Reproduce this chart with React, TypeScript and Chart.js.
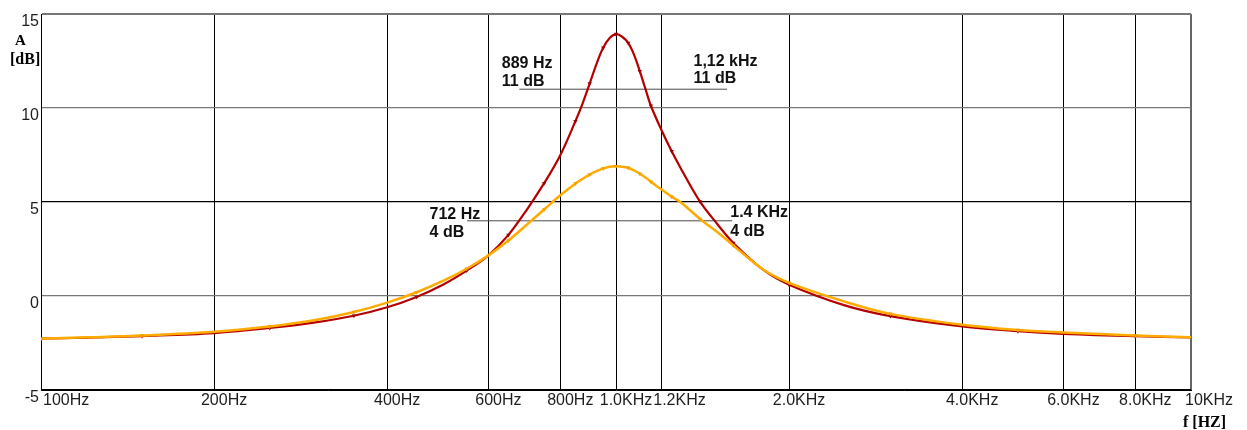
import { useEffect, useRef } from "react";
import { Chart, registerables } from "chart.js";

Chart.register(...registerables);

// Frequency grid of the response samples (Hz)
const freqHz = [
  100, 120, 150, 200, 250, 300, 350, 400, 450, 500,
  550, 600, 650, 700, 750, 800, 850, 875, 900, 925,
  950, 975, 1000, 1025, 1050, 1075, 1100, 1125, 1150, 1200,
  1250, 1300, 1400, 1500, 1600, 1800, 2000, 2500, 3000, 4000,
  5000, 6000, 8000, 10000,
];

// Narrow-band (high Q) response, dB
const gainNarrow = [
  -2.27, -2.22, -2.13, -1.97, -1.7, -1.4, -1.05, -0.6, -0.05, 0.6,
  1.35, 2.16, 3.25, 4.6, 6.0, 7.49, 9.3, 10.25, 11.3, 12.35,
  13.2, 13.72, 13.93, 13.79, 13.46, 12.83, 11.96, 11.02, 10.12, 8.82,
  7.7, 6.72, 5.02, 3.83, 2.82, 1.41, 0.6, -0.5, -1.07, -1.62,
  -1.87, -2.01, -2.14, -2.2,
];

// Wide-band (low Q) response, dB
const gainWide = [
  -2.27, -2.2, -2.1, -1.9, -1.62, -1.28, -0.85, -0.35, 0.2, 0.8,
  1.45, 2.16, 2.95, 3.8, 4.6, 5.36, 5.98, 6.24, 6.46, 6.64,
  6.78, 6.87, 6.9, 6.88, 6.82, 6.68, 6.5, 6.3, 6.08, 5.66,
  5.28, 4.95, 4.1, 3.4, 2.69, 1.42, 0.7, -0.3, -0.95, -1.53,
  -1.81, -1.94, -2.1, -2.2,
];

// Axis ticks
const xTickValues = [100, 200, 400, 600, 800, 1000, 1200, 2000, 4000, 6000, 8000, 10000];
const xTickLabels = ["100Hz", "200Hz", "400Hz", "600Hz", "800Hz", "1.0KHz", "1.2KHz", "2.0KHz", "4.0KHz", "6.0KHz", "8.0KHz", "10KHz"];
const yTickValues = [-5, 0, 5, 10, 15];

// -3 dB guide lines: level (dB) and frequency span (Hz)
const guideNarrowLevel = 11;
const guideNarrowSpan = [679, 1560];
const guideWideLevel = 4;
const guideWideSpan = [551, 1593];

// Band-edge notes
const noteNarrowLow = ["889 Hz", "11 dB"];
const noteNarrowHigh = ["1,12 kHz", "11 dB"];
const noteWideLow = ["712 Hz", "4 dB"];
const noteWideHigh = ["1.4 KHz", "4 dB"];

const SANS = "'Liberation Sans', Arial, Helvetica, sans-serif";
const SERIF = "'Liberation Serif', 'Times New Roman', serif";

const textLayer = {
  id: "textLayer",
  afterDraw(chart: any) {
    const { ctx } = chart;
    const x = chart.scales.x;
    const y = chart.scales.y;
    ctx.save();

    // Frequency labels under the axis
    ctx.font = `16px ${SANS}`;
    ctx.fillStyle = "#1e1e1e";
    ctx.textAlign = "left";
    ctx.textBaseline = "alphabetic";
    let prevRight = -Infinity;
    const base = y.bottom + 15;
    xTickValues.forEach((v, i) => {
      const label = xTickLabels[i];
      const px = x.getPixelForValue(v);
      const w = ctx.measureText(label).width;
      let left = px + 10 - w / 2;
      if (i === 0) left = px + 2;
      if (i === xTickValues.length - 1) left = px - 6;
      if (left < prevRight + 1) left = prevRight + 1;
      ctx.fillText(label, left, base);
      prevRight = left + w;
    });

    // Band-edge notes
    ctx.font = `bold 16px ${SANS}`;
    ctx.fillStyle = "#111";
    const notes = [
      { lines: noteNarrowLow, f: 633, level: guideNarrowLevel, dy: [-21, -3.5] },
      { lines: noteNarrowHigh, f: 1364, level: guideNarrowLevel, dy: [-23.5, -6] },
      { lines: noteWideLow, f: 474, level: guideWideLevel, dy: [-1.8, 16.3] },
      { lines: noteWideHigh, f: 1580, level: guideWideLevel, dy: [-3.4, 15] },
    ];
    notes.forEach((n) => {
      const px = x.getPixelForValue(n.f);
      const py = y.getPixelForValue(n.level);
      n.lines.forEach((t, k) => ctx.fillText(t, px, py + n.dy[k]));
    });

    // Axis titles
    ctx.fillStyle = "#000";
    ctx.font = `bold 15px ${SERIF}`;
    ctx.textAlign = "center";
    ctx.fillText("A", 20.5, 45);
    ctx.font = `bold 16px ${SERIF}`;
    ctx.textAlign = "left";
    ctx.fillText("[dB]", 10, 64);
    ctx.fillText("f [HZ]", 1183, 427);

    ctx.restore();
  },
};

export default function App() {
  const canvasRef = useRef<HTMLCanvasElement | null>(null);

  useEffect(() => {
    document.body.style.margin = "0";
    const canvas = canvasRef.current;
    if (!canvas) return;

    const toPoints = (vals: number[]) => freqHz.map((f, i) => ({ x: f, y: vals[i] }));
    const guide = (span: number[], level: number) => span.map((f) => ({ x: f, y: level }));
    const everyOther = (c: any) => (c.dataIndex % 2 === 0 ? 2.5 : 0);

    const chart = new Chart(canvas, {
      type: "line",
      data: {
        datasets: [
          {
            label: "wide",
            data: toPoints(gainWide),
            borderColor: "#ffab00",
            backgroundColor: "#f59e00",
            borderWidth: 2.5,
            tension: 0.35,
            pointStyle: "triangle",
            pointRotation: 180,
            pointRadius: everyOther,
            pointBorderWidth: 0,
            order: 1,
          },
          {
            label: "narrow",
            data: toPoints(gainNarrow),
            borderColor: "#b40000",
            backgroundColor: "#9a0000",
            borderWidth: 2.2,
            tension: 0.35,
            pointStyle: "triangle",
            pointRotation: 180,
            pointRadius: everyOther,
            pointBorderWidth: 0,
            order: 2,
          },
          {
            label: "guide11",
            data: guide(guideNarrowSpan, guideNarrowLevel),
            borderColor: "#4a4a4a",
            borderWidth: 1,
            pointRadius: 0,
            order: 5,
          },
          {
            label: "guide4",
            data: guide(guideWideSpan, guideWideLevel),
            borderColor: "#4a4a4a",
            borderWidth: 1,
            pointRadius: 0,
            order: 6,
          },
        ],
      },
      options: {
        responsive: false,
        animation: false,
        events: [],
        layout: { padding: { top: 14, right: 56, left: 0, bottom: 0 } },
        plugins: { legend: { display: false }, tooltip: { enabled: false } },
        scales: {
          x: {
            type: "logarithmic",
            min: 100,
            max: 10000,
            afterBuildTicks: (s: any) => {
              s.ticks = xTickValues.map((v) => ({ value: v }));
            },
            afterFit: (s: any) => {
              s.height = 40;
            },
            ticks: { display: false },
            grid: {
              drawTicks: false,
              color: (c: any) => (c.tick && c.tick.value === 10000 ? "#666" : "#000"),
              lineWidth: (c: any) => (c.tick && c.tick.value === 10000 ? 2 : 1),
            },
            border: { display: true, color: "#000", width: 1 },
          },
          y: {
            type: "linear",
            min: -5,
            max: 15,
            afterBuildTicks: (s: any) => {
              s.ticks = yTickValues.map((v) => ({ value: v }));
            },
            afterFit: (s: any) => {
              s.width = 41;
            },
            ticks: {
              padding: 2,
              labelOffset: 8,
              color: "#1e1e1e",
              font: { family: SANS, size: 16 },
            },
            grid: {
              drawTicks: false,
              color: (c: any) => {
                const v = c.tick ? c.tick.value : 0;
                return v === 5 || v === -5 ? "#000" : "#777";
              },
              lineWidth: (c: any) => (c.tick && c.tick.value === 15 ? 2 : 1.2),
            },
            border: { display: true, color: "#000", width: 1 },
          },
        },
      },
      plugins: [textLayer],
    });

    return () => chart.destroy();
  }, []);

  return (
    <div style={{ width: 1247, height: 430, background: "#fff" }}>
      <canvas ref={canvasRef} width={1247} height={430} style={{ display: "block" }} />
    </div>
  );
}
